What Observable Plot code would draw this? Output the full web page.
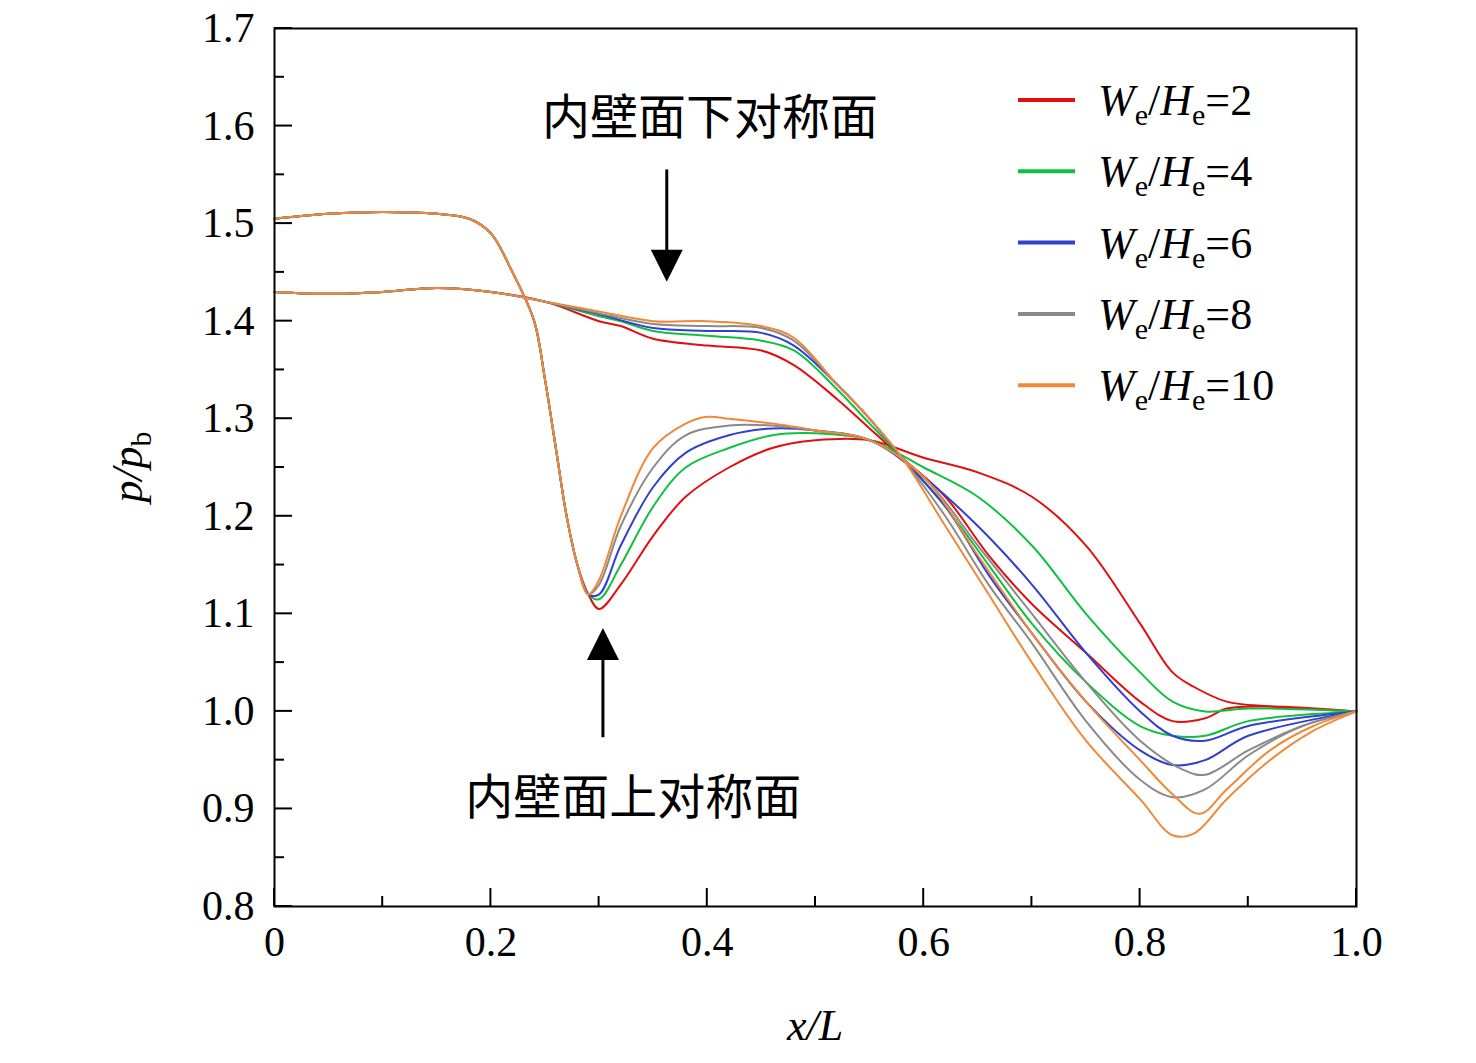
<!DOCTYPE html>
<html><head><meta charset="utf-8">
<script src="https://cdn.jsdelivr.net/npm/d3@7"></script>
<script src="https://cdn.jsdelivr.net/npm/@observablehq/plot@0.6"></script>
<style>body{margin:0;background:#fff}</style>
</head><body><div id="c"></div>
<script>
const series = ["2","4","6","8","10"];
const colors = ["#e01010","#10c040","#3040d0","#8a8a8a","#f0883a"];
const commonA = [[0,1.505],[0.05,1.51],[0.1,1.512],[0.15,1.51],[0.18,1.505],[0.2,1.49],[0.22,1.45],[0.24,1.40],[0.25,1.34],[0.26,1.27],[0.27,1.20],[0.28,1.15],[0.29,1.12]];
const commonB = [[0,1.43],[0.05,1.428],[0.1,1.43],[0.15,1.434],[0.2,1.43],[0.25,1.42]];
const tailA = {
 "2":[[0.30,1.105],[0.32,1.13],[0.35,1.18],[0.38,1.22],[0.42,1.25],[0.46,1.27],[0.5,1.278],[0.55,1.278],[0.6,1.26],[0.65,1.245],[0.7,1.22],[0.75,1.17],[0.8,1.09],[0.83,1.04],[0.85,1.025],[0.88,1.01],[0.92,1.005],[1,1]],
 "4":[[0.30,1.115],[0.32,1.15],[0.35,1.21],[0.38,1.25],[0.42,1.27],[0.46,1.283],[0.5,1.285],[0.55,1.278],[0.6,1.25],[0.65,1.22],[0.7,1.17],[0.75,1.10],[0.8,1.04],[0.83,1.01],[0.86,1.0],[0.9,1.003],[1,1]],
 "6":[[0.30,1.12],[0.32,1.17],[0.35,1.23],[0.38,1.265],[0.42,1.283],[0.46,1.29],[0.5,1.288],[0.55,1.278],[0.6,1.24],[0.65,1.19],[0.7,1.13],[0.75,1.06],[0.8,1.0],[0.83,0.975],[0.86,0.97],[0.9,0.985],[1,1]],
 "8":[[0.30,1.13],[0.32,1.19],[0.35,1.25],[0.38,1.283],[0.42,1.293],[0.46,1.293],[0.5,1.288],[0.55,1.278],[0.6,1.24],[0.65,1.17],[0.7,1.10],[0.75,1.03],[0.8,0.97],[0.84,0.94],[0.86,0.935],[0.9,0.96],[0.95,0.985],[1,1]],
 "10":[[0.30,1.135],[0.32,1.20],[0.35,1.27],[0.38,1.295],[0.40,1.302],[0.42,1.30],[0.46,1.295],[0.5,1.288],[0.55,1.278],[0.6,1.24],[0.65,1.16],[0.7,1.08],[0.75,1.01],[0.8,0.95],[0.83,0.915],[0.855,0.895],[0.88,0.92],[0.92,0.96],[0.96,0.985],[1,1]]
};
const tailB = {
 "2":[[0.3,1.40],[0.32,1.395],[0.35,1.382],[0.4,1.375],[0.45,1.37],[0.48,1.355],[0.52,1.32],[0.55,1.29],[0.58,1.26],[0.62,1.22],[0.66,1.16],[0.7,1.11],[0.75,1.06],[0.8,1.01],[0.83,0.99],[0.86,0.993],[0.88,1.003],[0.92,1.005],[1,1]],
 "4":[[0.3,1.405],[0.32,1.40],[0.35,1.39],[0.4,1.385],[0.45,1.38],[0.48,1.37],[0.52,1.33],[0.55,1.295],[0.58,1.26],[0.62,1.21],[0.66,1.15],[0.7,1.09],[0.75,1.03],[0.8,0.985],[0.83,0.975],[0.86,0.975],[0.9,0.99],[1,1]],
 "6":[[0.3,1.407],[0.35,1.393],[0.4,1.39],[0.45,1.388],[0.48,1.375],[0.52,1.335],[0.55,1.30],[0.58,1.26],[0.62,1.21],[0.66,1.14],[0.7,1.08],[0.75,1.01],[0.8,0.96],[0.83,0.945],[0.86,0.95],[0.9,0.975],[1,1]],
 "8":[[0.3,1.408],[0.35,1.397],[0.4,1.395],[0.45,1.393],[0.48,1.38],[0.52,1.335],[0.55,1.30],[0.58,1.26],[0.62,1.20],[0.66,1.13],[0.7,1.07],[0.75,0.99],[0.8,0.93],[0.83,0.912],[0.86,0.92],[0.9,0.955],[0.95,0.985],[1,1]],
 "10":[[0.3,1.41],[0.35,1.40],[0.4,1.40],[0.45,1.395],[0.48,1.383],[0.52,1.335],[0.55,1.30],[0.58,1.26],[0.62,1.19],[0.66,1.12],[0.7,1.05],[0.75,0.97],[0.8,0.91],[0.83,0.873],[0.85,0.875],[0.88,0.91],[0.92,0.95],[0.96,0.98],[1,1]]
};
const xTicks = [0,0.2,0.4,0.6,0.8,1.0];
const xMinor = [0.1,0.3,0.5,0.7,0.9];
const yTicks = [0.8,0.9,1.0,1.1,1.2,1.3,1.4,1.5,1.6,1.7];
const yMinor = [0.85,0.95,1.05,1.15,1.25,1.35,1.45,1.55,1.65];

const rows = [];
series.forEach(s=>{
  commonA.concat(tailA[s]).forEach(([x,y])=>rows.push({s,curve:"A"+s,x,y}));
  commonB.concat(tailB[s]).forEach(([x,y])=>rows.push({s,curve:"B"+s,x,y}));
});
const font = "'Liberation Serif','DejaVu Serif',serif";
const ML=274, MR=120, MT=28, MB=157, W=1476, H=1063;
const plot = Plot.plot({
  width:W, height:H, marginLeft:ML, marginRight:MR, marginTop:MT, marginBottom:MB,
  style:{fontFamily:font, background:"#fff"},
  x:{domain:[0,1], label:null},
  y:{domain:[0.8,1.7], label:null},
  color:{domain:series, range:colors},
  marks:[
    Plot.axisX({ticks:xTicks, tickFormat:d=>d===0?"0":d.toFixed(1), tickSize:0, tickPadding:20, label:null, fontSize:42, fontFamily:font}),
    Plot.axisY({ticks:yTicks, tickFormat:d=>d.toFixed(1), tickSize:0, tickPadding:20, label:null, fontSize:42, fontFamily:font}),
    Plot.lineY(rows,{x:"x",y:"y",z:"curve",stroke:"s",strokeWidth:2,curve:"catmull-rom"}),
    Plot.frame({stroke:"#000",strokeWidth:2})
  ]
});
document.getElementById("c").appendChild(plot);
const svg = d3.select(plot);
const xs = plot.scale("x"), ys = plot.scale("y");
const X=v=>xs.apply(v), Y=v=>ys.apply(v);
const g = svg.append("g").attr("stroke","#000").attr("stroke-width",2);
xTicks.forEach(v=>g.append("line").attr("x1",X(v)).attr("x2",X(v)).attr("y1",Y(0.8)).attr("y2",Y(0.8)-18));
xMinor.forEach(v=>g.append("line").attr("x1",X(v)).attr("x2",X(v)).attr("y1",Y(0.8)).attr("y2",Y(0.8)-10));
yTicks.forEach(v=>g.append("line").attr("x1",X(0)).attr("x2",X(0)+18).attr("y1",Y(v)).attr("y2",Y(v)));
yMinor.forEach(v=>g.append("line").attr("x1",X(0)).attr("x2",X(0)+10).attr("y1",Y(v)).attr("y2",Y(v)));
// axis labels
const xl = svg.append("text").attr("x",X(0.5)).attr("y",1040).attr("text-anchor","middle").attr("font-family",font).attr("font-size",44).attr("font-style","italic");
xl.append("tspan").text("x/L");
const yl = svg.append("text").attr("transform",`translate(142,${Y(1.25)}) rotate(-90)`).attr("text-anchor","middle").attr("font-family",font).attr("font-size",44).attr("font-style","italic");
yl.append("tspan").text("p/p");
yl.append("tspan").attr("font-size",30).attr("font-style","normal").attr("dy",9).text("b");
// legend
series.forEach((s,i)=>{
  const yy = 100 + i*71.3;
  svg.append("line").attr("x1",1018).attr("x2",1075).attr("y1",yy).attr("y2",yy).attr("stroke",colors[i]).attr("stroke-width",4);
  const t = svg.append("text").attr("x",1098).attr("y",yy+15).attr("text-anchor","start").attr("font-family",font).attr("font-size",44);
  t.append("tspan").attr("font-style","italic").text("W");
  t.append("tspan").attr("font-size",30).attr("dy",10).text("e");
  t.append("tspan").attr("dy",-10).text("/");
  t.append("tspan").attr("font-style","italic").text("H");
  t.append("tspan").attr("font-size",30).attr("dy",10).text("e");
  t.append("tspan").attr("dy",-10).text("="+s);
});
// annotations
const cjk = "'Noto Sans CJK SC',sans-serif";
svg.append("text").attr("x",X(0.403)).attr("y",Y(1.61)+18).attr("text-anchor","middle").attr("font-family",cjk).attr("font-size",48).text("内壁面下对称面");
svg.append("text").attr("x",X(0.332)).attr("y",Y(0.913)+18).attr("text-anchor","middle").attr("font-family",cjk).attr("font-size",48).text("内壁面上对称面");
function arrow(x,y1,y2){
  const px=X(x), a=Y(y1), b=Y(y2), dir=Math.sign(b-a);
  svg.append("line").attr("x1",px).attr("x2",px).attr("y1",a).attr("y2",b-dir*30).attr("stroke","#000").attr("stroke-width",3);
  svg.append("polygon").attr("points",`${px},${b} ${px-16},${b-dir*32} ${px+16},${b-dir*32}`).attr("fill","#000");
}
arrow(0.363,1.555,1.44);
arrow(0.304,0.973,1.085);
</script></body></html>
